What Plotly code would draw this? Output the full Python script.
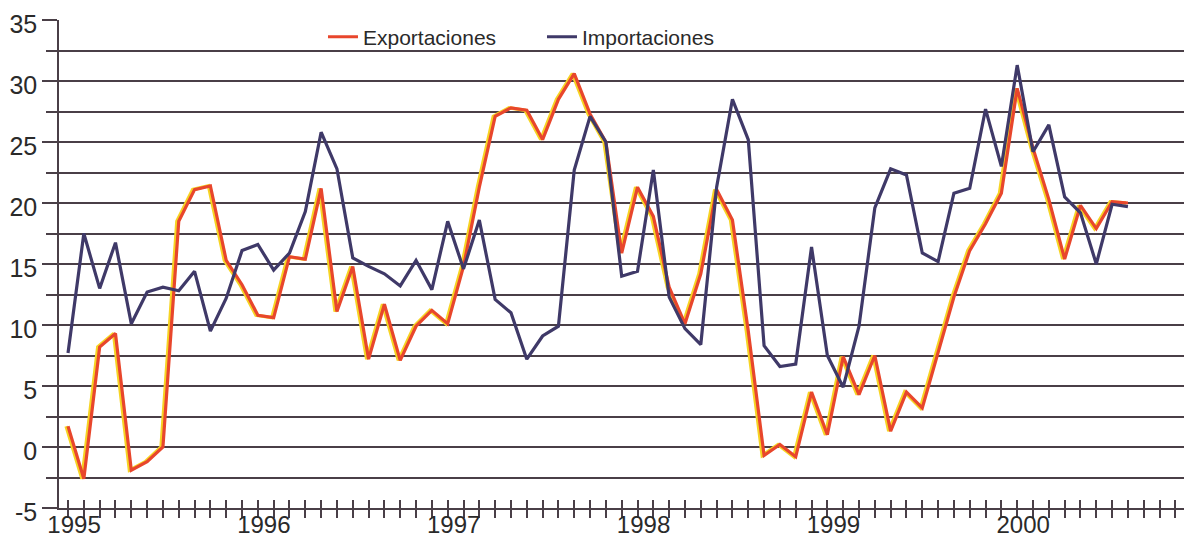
import plotly.graph_objects as go

# ---- data (monthly, Jan 1995 .. Aug 2000) ----
months = list(range(68))
years = ["1995", "1996", "1997", "1998", "1999", "2000"]
year_pos = [0, 12, 24, 36, 48, 60]

exportaciones = [1.7, -2.6, 8.2, 9.3, -1.9, -1.2, 0.0, 18.5, 21.1, 21.4, 15.3, 13.3,
                 10.8, 10.6, 15.6, 15.4, 21.2, 11.1, 14.8, 7.2, 11.7, 7.1, 9.9, 11.2,
                 10.1, 14.8, 21.3, 27.1, 27.8, 27.6, 25.2, 28.5, 30.6, 27.3, 25.0, 15.9,
                 21.3, 18.9, 13.1, 10.1, 14.2, 21.1, 18.6, 9.5, -0.7, 0.2, -0.8, 4.5,
                 1.0, 7.4, 4.3, 7.5, 1.3, 4.5, 3.2, 7.7, 12.3, 16.1, 18.3, 20.8,
                 29.4, 24.5, 20.3, 15.4, 19.8, 17.9, 20.1, 20.0]

importaciones = [7.7, 17.5, 13.0, 16.75, 10.1, 12.7, 13.1, 12.8, 14.4, 9.5, 12.2, 16.1,
                 16.6, 14.5, 15.9, 19.3, 25.8, 22.8, 15.5, 14.8, 14.2, 13.2, 15.3, 12.9,
                 18.5, 14.6, 18.6, 12.1, 11.0, 7.2, 9.1, 9.9, 22.7, 27.1, 25.0, 14.0,
                 14.4, 22.7, 12.3, 9.7, 8.4, 21.3, 28.5, 25.2, 8.3, 6.6, 6.8, 16.4,
                 7.5, 4.9, 9.9, 19.6, 22.8, 22.3, 15.9, 15.2, 20.8, 21.2, 27.7, 23.0,
                 31.3, 24.2, 26.4, 20.5, 19.2, 15.0, 19.9, 19.7]

y_major = [-5, 0, 5, 10, 15, 20, 25, 30, 35]
y_minor = [-2.5, 2.5, 7.5, 12.5, 17.5, 22.5, 27.5, 32.5]

# ---- style ----
GC = "#4a3f47"
RED = "#e8462c"
YEL = "#f6d424"
NAVY = "#3f3968"
FONT = "Liberation Sans"
TXT = "#2a2a2a"

X0, X1 = -0.57, 71.05
SHIFT = 0.12

fig = go.Figure()

# yellow under-stroke of the export line: on the base subplot, whose x range is
# shifted slightly, so it peeks out from under the red line
fig.add_trace(go.Scatter(x=months, y=exportaciones, mode="lines",
                         line=dict(color=YEL, width=3.4),
                         xaxis="x", yaxis="y", showlegend=False, hoverinfo="skip"))
fig.add_trace(go.Scatter(x=months, y=exportaciones, mode="lines", name="Exportaciones",
                         line=dict(color=RED, width=3.2), xaxis="x2", yaxis="y"))
fig.add_trace(go.Scatter(x=months, y=importaciones, mode="lines", name="Importaciones",
                         line=dict(color=NAVY, width=3.2), xaxis="x2", yaxis="y"))
# empty helper traces so that the tick-only overlay axes get drawn
for xa, ya in [("x3", "y"), ("x4", "y"), ("x2", "y2")]:
    fig.add_trace(go.Scatter(x=[None], y=[None], mode="lines", xaxis=xa, yaxis=ya,
                             showlegend=False, hoverinfo="skip"))

fig.update_layout(
    width=1184, height=536,
    margin=dict(l=51, r=0, t=12, b=36, autoexpand=False),
    paper_bgcolor="white", plot_bgcolor="white",
    font=dict(family=FONT, color=TXT),
    xaxis=dict(range=[X0 + SHIFT, X1 + SHIFT], visible=False, automargin=False),
    xaxis2=dict(overlaying="x", anchor="y", side="bottom", range=[X0, X1],
                tickmode="linear", tick0=0, dtick=1,
                ticks="outside", ticklen=8, tickwidth=1.5, tickcolor=GC,
                showticklabels=False, showgrid=False, zeroline=False,
                showline=True, linecolor=GC, linewidth=1.5, automargin=False),
    xaxis3=dict(overlaying="x", anchor="y", side="bottom", range=[X0, X1],
                tickmode="linear", tick0=0, dtick=1,
                ticks="inside", ticklen=8, tickwidth=1.5, tickcolor=GC,
                showticklabels=False, showgrid=False, zeroline=False, showline=False,
                automargin=False),
    xaxis4=dict(overlaying="x", anchor="y", side="bottom", range=[X0, X1],
                tickmode="array", tickvals=[p + 0.38 for p in year_pos], ticktext=years,
                ticks="", ticklabelstandoff=0,
                tickfont=dict(size=24, family=FONT, color=TXT),
                ticklabeloverflow="allow",
                showgrid=False, zeroline=False, showline=False, automargin=False),
    yaxis=dict(range=[-5, 35], tickmode="array", tickvals=y_major,
               ticktext=[str(v) for v in y_major],
               ticks="outside", ticklen=15, tickwidth=1.5, tickcolor=GC,
               tickfont=dict(size=25, family=FONT, color=TXT),
               ticklabeloverflow="allow", ticklabelshift=4,
               showgrid=True, gridcolor=GC, gridwidth=1.5,
               zeroline=False, showline=True, linecolor=GC, linewidth=1.5,
               automargin=False,
               minor=dict(tickmode="array", tickvals=y_minor, ticks="outside",
                          ticklen=11, tickwidth=1.5, tickcolor=GC,
                          showgrid=True, gridcolor=GC, gridwidth=1.5)),
    yaxis2=dict(overlaying="y", anchor="x2", range=[-5, 35], tickmode="array",
                tickvals=[35], ticks="inside", ticklen=14, tickwidth=1.5, tickcolor=GC,
                showticklabels=False, showgrid=False, zeroline=False, showline=False,
                automargin=False),
    legend=dict(orientation="h", x=0.233, y=0.965, xanchor="left", yanchor="middle",
                bgcolor="rgba(0,0,0,0)", font=dict(size=21, family=FONT, color=TXT),
                entrywidth=174, itemwidth=30),
    showlegend=True,
)

fig.write_html("out.html")
